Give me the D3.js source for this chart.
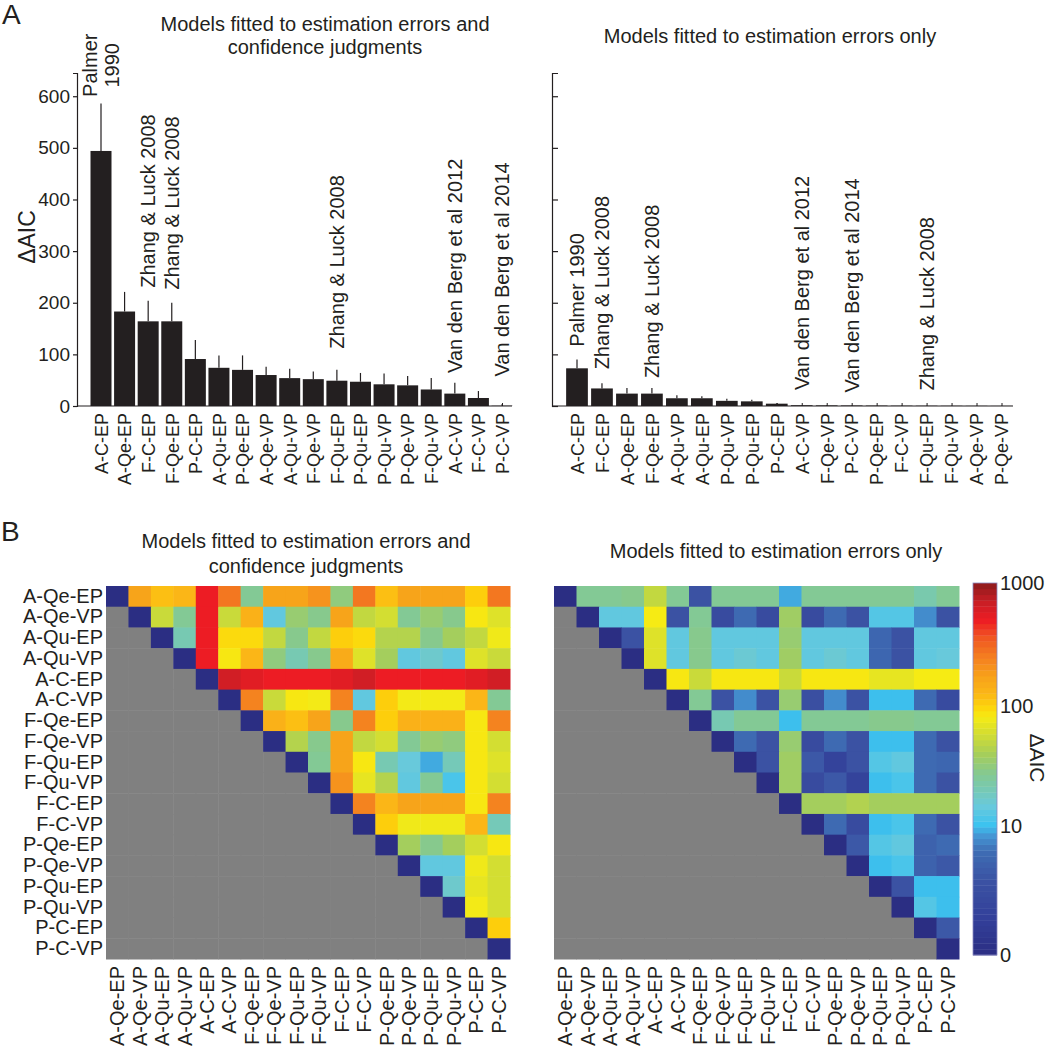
<!DOCTYPE html>
<html><head><meta charset="utf-8">
<script src="https://cdn.jsdelivr.net/npm/d3@7"></script>
<style>
body{margin:0;background:#fff;}
text{font-family:"Liberation Sans",Arial,sans-serif;fill:#231f20;}
</style>
</head><body>
<svg id="c" width="1050" height="1047"></svg>
<script>
// ---------- DATA ----------
const barCatsConf = ["A-C-EP","A-Qe-EP","F-C-EP","F-Qe-EP","P-C-EP","A-Qu-EP","P-Qe-EP","A-Qe-VP","A-Qu-VP","F-Qe-VP","F-Qu-EP","P-Qu-EP","P-Qu-VP","P-Qe-VP","F-Qu-VP","A-C-VP","F-C-VP","P-C-VP"];
const barValsConf = [494,183,164,164,91,74,70,60,54,52,49,47,42,40,32,24,15.5,0.5];
const barErrConf  = [92,38,40,36,37,24,28,16,18,15,21,17,21,18,22,21,13.5,3];

const barCatsErr = ["A-C-EP","F-C-EP","A-Qe-EP","F-Qe-EP","A-Qu-VP","A-Qu-EP","P-Qu-VP","P-Qu-EP","P-C-EP","A-C-VP","F-Qe-VP","P-C-VP","P-Qe-EP","F-C-VP","F-Qu-EP","F-Qu-VP","A-Qe-VP","P-Qe-VP"];
const barValsErr = [73,34,24,24,15,15,10,9,4.5,1.5,1.2,1.0,0.8,0.6,0.5,0.4,0.3,0.2];
const barErrErr  = [17,10,11,11,6,4,4,3,1.5,0.5,0.5,0.5,0.4,0.4,0.3,0.3,0.2,0.2];

const yTicks = [0,100,200,300,400,500,600];

const annConfText = ["Palmer\n1990","Zhang & Luck 2008","Zhang & Luck 2008","Zhang & Luck 2008","Van den Berg et al 2012","Van den Berg et al 2014"];
const annConfCat  = ["A-C-EP","F-C-EP","F-Qe-EP","F-Qu-EP","A-C-VP","P-C-VP"];
const annConfY    = [660,229,225,111,64,57];

const annErrText = ["Palmer 1990","Zhang & Luck 2008","Zhang & Luck 2008","Van den Berg et al 2012","Van den Berg et al 2014","Zhang & Luck 2008"];
const annErrCat  = ["A-C-EP","F-C-EP","F-Qe-EP","A-C-VP","P-C-VP","F-Qu-EP"];
const annErrY    = [115,71,54,31,26,30];

const models = ["A-Qe-EP","A-Qe-VP","A-Qu-EP","A-Qu-VP","A-C-EP","A-C-VP","F-Qe-EP","F-Qe-VP","F-Qu-EP","F-Qu-VP","F-C-EP","F-C-VP","P-Qe-EP","P-Qe-VP","P-Qu-EP","P-Qu-VP","P-C-EP","P-C-VP"];

// upper-triangle rows (entries for columns j > i)
const confUpper = [
  [170,118,128,500,270,27,170,170,205,32,270,118,170,170,170,105,270],
  [55,27,500,55,140,14,35,29,170,52,60,27,35,29,85,66],
  [21,500,95,95,52,29,52,105,95,46,46,29,40,52,78],
  [500,85,128,32,21,29,152,66,40,14,17,14,66,55],
  [650,560,500,500,500,560,650,500,500,500,500,560,650],
  [240,55,85,80,240,14,105,80,80,80,128,27],
  [140,118,170,29,240,105,140,140,140,85,240],
  [46,29,170,52,60,27,35,32,85,60],
  [27,170,85,21,15,9,20,85,66],
  [205,72,46,14,27,11.5,85,60],
  [240,128,170,170,170,85,240],
  [105,78,78,78,128,20],
  [40,29,40,60,85],
  [14,14,78,60],
  [17,72,60],
  [80,60],
  [105],
  []
];
const errUpper = [
  [27,27,29,52,27,3,27,27,27,9,27,27,27,27,27,22,27],
  [14,14,82,3,27,2,5.5,2,38,2,5.5,3,12.5,12.5,7.5,3],
  [3,66,14,29,14,14,14,35,14,14,14,5,3,14,14],
  [66,14,29,14,16,14,38,14,16,14,5,3,14,15],
  [85,55,85,85,85,55,85,85,85,72,72,82,82],
  [27,3,7.5,3,35,2.5,7.5,3,10,10,5.5,2],
  [21,27,27,10,27,27,27,29,29,27,27],
  [5.5,3,35,2,5.5,3,10,10,5.5,3],
  [3,38,3.5,1.2,3,12.5,14,5.5,5],
  [38,2,3.5,1.2,10,11.5,5.5,3],
  [40,40,45,40,40,40,40],
  [5.5,2,10,11.5,5.5,3],
  [3.5,12.5,14,4.5,5.5],
  [10,11.5,4.5,3.5],
  [3,10,10],
  [12.5,10],
  [3.5],
  []
];
const cbTicks = [0,10,100,1000];

// ---------- STYLE CONSTANTS ----------
const INK = "#231f20";
const cmapT = [0,0.10,0.20,0.28,0.32,0.35,0.40,0.45,0.49,0.54,0.59,0.64,0.67,0.70,0.75,0.80,0.85,0.90,0.95,1.0];
const cmapC = ["#2b2e83","#33409a","#3b52a3","#3e6db4","#4596d4","#3cc3f0","#68c9dc","#78c9b0","#86c98f","#a6ce5a","#cfdc35","#f6eb14","#fdd20a","#fbb817","#f7a11a","#f47f20","#f05a22","#ed1c24","#c81e25","#8b1a1c"];
const colT = d3.scaleLinear().domain(cmapT).range(cmapC).interpolate(d3.interpolateRgb).clamp(true);
const valT = d3.scaleSymlog().constant(1).domain([0,1000]).range([0,1]).clamp(true);
const colorOf = v => colT(valT(v));

const svg = d3.select("#c");

// panel letters
svg.append("text").attr("x",2).attr("y",24).attr("font-size",28).text("A");
svg.append("text").attr("x",1).attr("y",541).attr("font-size",28).text("B");

// ---------- BAR CHARTS ----------
function barChart(o){
  const g = svg.append("g");
  const x = d3.scalePoint().domain(o.cats).range([o.c0,o.c1]);
  const step = x.step();
  const y = d3.scaleLinear().domain([0,645]).range([406,73]);
  const bw = step*o.bwFrac;
  g.selectAll("rect.bar").data(o.cats).join("rect")
    .attr("x",d=>x(d)-bw/2).attr("width",bw)
    .attr("y",(d,i)=>y(o.vals[i])).attr("height",(d,i)=>y(0)-y(o.vals[i]))
    .attr("fill",INK);
  g.selectAll("line.err").data(o.cats).join("line")
    .attr("x1",d=>x(d)).attr("x2",d=>x(d))
    .attr("y1",(d,i)=>y(o.vals[i])).attr("y2",(d,i)=>y(o.vals[i]+o.errs[i]))
    .attr("stroke",INK).attr("stroke-width",1.2);
  const ya = d3.axisLeft(y).tickValues(yTicks).tickSizeOuter(0);
  if(o.labels){ ya.tickSize(4).tickPadding(3); } else { ya.tickSize(-6).tickFormat(""); }
  const yg = g.append("g").attr("transform",`translate(${o.ax0},0)`).call(ya);
  yg.select(".domain").attr("stroke",INK).attr("stroke-width",1.2);
  yg.selectAll(".tick line").attr("stroke",INK).attr("stroke-width",1.2);
  yg.selectAll(".tick text").attr("font-size",19).attr("font-family","Liberation Sans, Arial, sans-serif").attr("fill",INK);
  const xa = d3.axisBottom(x).tickSize(-3).tickSizeOuter(0).tickPadding(7);
  const xg = g.append("g").attr("transform",`translate(0,${y(0)})`).call(xa);
  xg.select(".domain").attr("d",`M${o.ax0},0H${o.ax1}`).attr("stroke",INK).attr("stroke-width",1.2);
  xg.selectAll(".tick line").attr("stroke",INK);
  xg.selectAll(".tick text").attr("font-size",18).attr("font-family","Liberation Sans, Arial, sans-serif").attr("fill",INK)
    .attr("text-anchor","end").attr("transform","rotate(-90)").attr("x",-7).attr("y",0).attr("dy","0.35em");
  o.annText.forEach((t,i)=>{
    const lines = t.split("\n");
    const gx = x(o.annCat[i]);
    const gy = y(o.annY[i]);
    const tx = g.append("text").attr("transform",`translate(${gx},${gy}) rotate(-90)`)
      .attr("font-size",20).attr("text-anchor",lines.length>1?"middle":"start");
    lines.forEach((ln,k)=>{
      tx.append("tspan").attr("x",0).attr("y",(k-(lines.length-1)/2)*22).attr("dy","0.35em").text(ln);
    });
  });
  const tt = svg.append("text").attr("x",o.tx).attr("text-anchor","middle").attr("font-size",20);
  o.title.forEach((ln,k)=> tt.append("tspan").attr("x",o.tx).attr("y",o.ty+k*23).text(ln));
  return g;
}

barChart({cats:barCatsConf, vals:barValsConf, errs:barErrConf, c0:101, c1:502, bwFrac:0.89,
  ax0:77, ax1:512, labels:true, annText:annConfText, annCat:annConfCat, annY:annConfY,
  title:["Models fitted to estimation errors and","confidence judgments"], tx:325, ty:31});
barChart({cats:barCatsErr, vals:barValsErr, errs:barErrErr, c0:577, c1:1001.5, bwFrac:0.87,
  ax0:552, ax1:1013, labels:false, annText:annErrText, annCat:annErrCat, annY:annErrY,
  title:["Models fitted to estimation errors only"], tx:770, ty:43});

// y label
svg.append("text").attr("transform","translate(35,237) rotate(-90)").attr("text-anchor","middle")
  .attr("font-size",23).text("\u0394AIC");

// ---------- HEATMAPS ----------
function heatmap(o){
  const g = svg.append("g");
  const x = d3.scaleBand().domain(models).range([o.x0,o.x1]);
  const y = d3.scaleBand().domain(models).range([586,959]);
  const cells = [];
  models.forEach((r,i)=>models.forEach((c,j)=>{
    let v = null;
    if(j===i) v = 0; else if(j>i) v = o.upper[i][j-i-1];
    cells.push({r,c,v});
  }));
  g.selectAll("rect").data(cells).join("rect")
    .attr("x",d=>x(d.c)).attr("y",d=>y(d.r))
    .attr("width",x.bandwidth()+0.5).attr("height",y.bandwidth()+0.5)
    .attr("fill",d=>d.v===null?"#808080":colorOf(d.v));
  if(o.rowLabels){
    const ya = d3.axisLeft(y).tickSize(0).tickPadding(3);
    const yg = g.append("g").attr("transform",`translate(${o.x0},0)`).call(ya);
    yg.select(".domain").remove();
    yg.selectAll("text").attr("font-size",20).attr("font-family","Liberation Sans, Arial, sans-serif").attr("fill",INK);
  }
  const xa = d3.axisBottom(x).tickSize(0);
  const xg = g.append("g").attr("transform",`translate(0,959)`).call(xa);
  xg.select(".domain").remove();
  xg.selectAll("text").attr("font-size",20).attr("font-family","Liberation Sans, Arial, sans-serif").attr("fill",INK)
    .attr("text-anchor","end").attr("transform","rotate(-90)").attr("x",-7).attr("y",0).attr("dy","0.35em");
  const tt = svg.append("text").attr("text-anchor","middle").attr("font-size",20);
  o.title.forEach((ln,k)=> tt.append("tspan").attr("x",o.tx).attr("y",o.ty+k*25).text(ln));
}
heatmap({upper:confUpper, x0:106, x1:510, rowLabels:true,
  title:["Models fitted to estimation errors and","confidence judgments"], tx:306, ty:548});
heatmap({upper:errUpper, x0:554, x1:959, rowLabels:false,
  title:["Models fitted to estimation errors only"], tx:776, ty:558});

// ---------- COLORBAR ----------
const cbY = d3.scaleSymlog().constant(1).domain([0,1000]).range([955,583]);
const nb = 64;
const cbT = d3.scaleLinear().domain([0,nb]).range([955,583]);
const cb = svg.append("g");
cb.selectAll("rect").data(d3.range(nb)).join("rect")
  .attr("x",973).attr("width",24)
  .attr("y",k=>cbT(k+1)).attr("height",k=>cbT(k)-cbT(k+1)+0.4)
  .attr("fill",k=>colT((k+0.5)/nb));
cb.append("rect").attr("x",973).attr("y",583).attr("width",24).attr("height",372)
  .attr("fill","none").attr("stroke","#8a8ac0").attr("stroke-width",0.8);
const cba = d3.axisRight(cbY).tickValues(cbTicks).tickFormat(d3.format("d")).tickSize(0).tickPadding(3);
const cbg = cb.append("g").attr("transform","translate(997,0)").call(cba);
cbg.select(".domain").remove();
cbg.selectAll("text").attr("font-size",20).attr("font-family","Liberation Sans, Arial, sans-serif").attr("fill",INK);
svg.append("text").attr("transform","translate(1030,758) rotate(90)").attr("text-anchor","middle")
  .attr("font-size",21).text("\u0394AIC");
</script>
</body></html>
